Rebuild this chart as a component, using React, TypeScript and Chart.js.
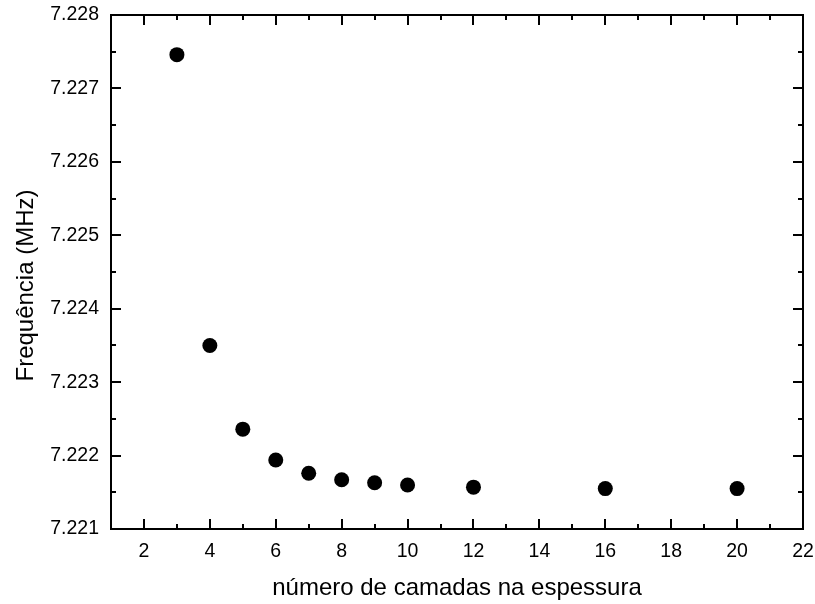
import React, { useEffect, useRef } from "react";
import { Chart, registerables } from "chart.js";

Chart.register(...registerables);

const layers: number[] = [3, 4, 5, 6, 7, 8, 9, 10, 12, 16, 20];
const frequencyMHz: number[] = [
  7.22746, 7.2235, 7.22236, 7.22194, 7.22176, 7.22167, 7.22163, 7.2216,
  7.22157, 7.22155, 7.22155,
];
const xMajorTicks: number[] = [2, 4, 6, 8, 10, 12, 14, 16, 18, 20, 22];
const xMinorTicks: number[] = [3, 5, 7, 9, 11, 13, 15, 17, 19, 21];
const yMajorTicks: number[] = [7.221, 7.222, 7.223, 7.224, 7.225, 7.226, 7.227, 7.228];
const yMinorTicks: number[] = [7.2215, 7.2225, 7.2235, 7.2245, 7.2255, 7.2265, 7.2275];
const xTitle = "número de camadas na espessura";
const yTitle = "Frequência (MHz)";

const FONT = "'Liberation Sans', Arial, Helvetica, sans-serif";

const framePlugin = {
  id: "framePlugin",
  afterDraw(chart: any) {
    const ctx = chart.ctx;
    const { left, right, top, bottom } = chart.chartArea;
    const xs = chart.scales.x;
    const ys = chart.scales.y;
    ctx.save();
    ctx.strokeStyle = "#000";
    ctx.lineWidth = 2;
    ctx.beginPath();
    const major = 10;
    const minor = 5;
    const vt = (v: number, len: number) => {
      const px = Math.round(xs.getPixelForValue(v));
      ctx.moveTo(px, bottom);
      ctx.lineTo(px, bottom - len);
      ctx.moveTo(px, top);
      ctx.lineTo(px, top + len);
    };
    const ht = (v: number, len: number) => {
      const py = Math.round(ys.getPixelForValue(v));
      ctx.moveTo(left, py);
      ctx.lineTo(left + len, py);
      ctx.moveTo(right, py);
      ctx.lineTo(right - len, py);
    };
    xMajorTicks.forEach((v) => vt(v, major));
    xMinorTicks.forEach((v) => vt(v, minor));
    yMajorTicks.forEach((v) => ht(v, major));
    yMinorTicks.forEach((v) => ht(v, minor));
    ctx.stroke();
    ctx.beginPath();
    ctx.rect(left, top, right - left, bottom - top);
    ctx.stroke();

    ctx.fillStyle = "#000";
    ctx.font = `24px ${FONT}`;
    ctx.textAlign = "center";
    ctx.textBaseline = "alphabetic";
    ctx.fillText(xTitle, (left + right) / 2, 595);
    ctx.translate(32.5, 285.5);
    ctx.rotate(-Math.PI / 2);
    ctx.fillText(yTitle, 0, 0);
    ctx.restore();
  },
};

export default function App() {
  const ref = useRef<HTMLCanvasElement | null>(null);
  useEffect(() => {
    document.body.style.margin = "0";
    if (!ref.current) return;
    const chart = new Chart(ref.current, {
      type: "scatter",
      data: {
        datasets: [
          {
            label: "Frequência",
            data: layers.map((x, i) => ({ x, y: frequencyMHz[i] })),
            pointRadius: 7.5,
            pointHoverRadius: 7.5,
            pointBackgroundColor: "#000",
            pointBorderWidth: 0,
            pointBorderColor: "#000",
            showLine: false,
          },
        ],
      },
      options: {
        responsive: false,
        animation: false,
        events: [],
        layout: { padding: { top: 15, right: 12, left: 0, bottom: 0 } },
        plugins: {
          legend: { display: false },
          tooltip: { enabled: false },
          title: { display: false },
        },
        scales: {
          x: {
            type: "linear",
            min: 1,
            max: 22,
            grid: { display: false, drawTicks: false },
            border: { display: false },
            afterBuildTicks: (s: any) => {
              s.ticks = xMajorTicks.map((v) => ({ value: v }));
            },
            afterFit: (s: any) => {
              s.height = 75;
              s.paddingLeft = 0;
              s.paddingRight = 0;
            },
            ticks: {
              color: "#000",
              font: { family: FONT, size: 19.5 },
              padding: 11,
              maxRotation: 0,
              callback: (v: any) => String(v),
            },
          },
          y: {
            type: "linear",
            min: 7.221,
            max: 7.228,
            grid: { display: false, drawTicks: false },
            border: { display: false },
            afterBuildTicks: (s: any) => {
              s.ticks = yMajorTicks.map((v) => ({ value: v }));
            },
            afterFit: (s: any) => {
              s.width = 111;
              s.paddingTop = 0;
              s.paddingBottom = 0;
            },
            ticks: {
              color: "#000",
              font: { family: FONT, size: 19.5 },
              padding: 12,
              callback: (v: any) => Number(v).toFixed(3),
            },
          },
        },
      },
      plugins: [framePlugin],
    });
    return () => chart.destroy();
  }, []);
  return (
    <div style={{ position: "absolute", left: 0, top: 0, width: 815, height: 604, background: "#fff" }}>
      <canvas ref={ref} width={815} height={604} />
    </div>
  );
}
